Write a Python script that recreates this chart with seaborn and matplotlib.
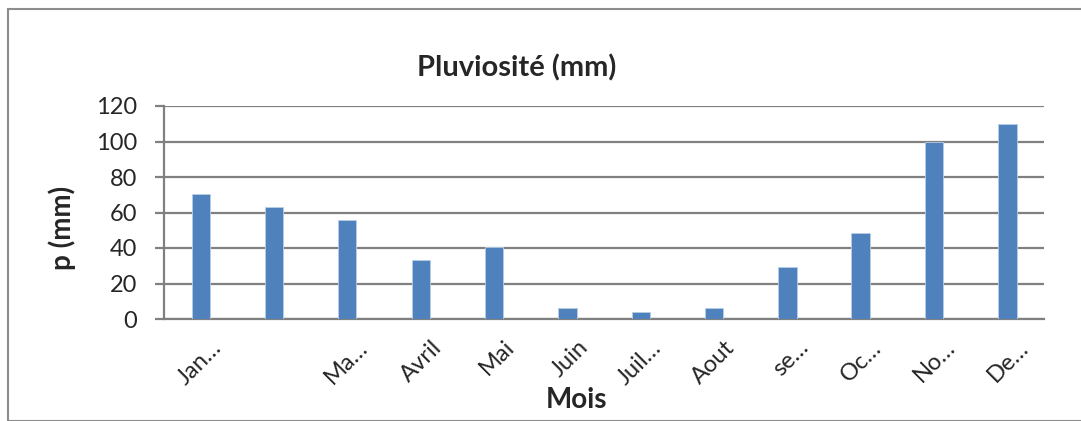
import seaborn as sns
import matplotlib.pyplot as plt
from matplotlib.patches import Rectangle
from matplotlib.transforms import ScaledTranslation
import pandas as pd

months = ["Janvier", "Février", "Mars", "Avril", "Mai", "Juin",
          "Juillet", "Aout", "septembre", "Octobre", "Novembre", "Décembre"]
tick_labels = ["Jan…", "", "Ma…", "Avril", "Mai", "Juin",
               "Juil…", "Aout", "se…", "Oc…", "No…", "De…"]
rain = [70.5, 63, 56, 33.5, 40.5, 6, 4, 6, 29.5, 48.5, 100, 110]

df = pd.DataFrame({"mois": months, "p": rain})

sns.set_style("white")
plt.rcParams["font.family"] = ["Lato", "DejaVu Sans"]

W, H = 1081, 421
fig = plt.figure(figsize=(W / 100, H / 100), dpi=100)
ax = fig.add_axes([164 / W, 1 - 319 / H, 880 / W, 213 / H])

grey = "#808080"
sns.barplot(data=df, x="mois", y="p", ax=ax, color="#4F81BD", width=0.25,
            saturation=1, edgecolor="#B9CDE5", linewidth=0.6, zorder=3)

ax.set_ylim(0, 120)
ax.set_xlim(-0.5, 11.5)
ax.set_yticks(range(0, 121, 20))
ax.yaxis.grid(True, color=grey, linewidth=1.6, zorder=0)
ax.set_axisbelow(True)
for side in ["top", "right"]:
    ax.spines[side].set_visible(False)
for side in ["left", "bottom"]:
    ax.spines[side].set_color(grey)
    ax.spines[side].set_linewidth(1.6)

ax.tick_params(axis="y", left=True, length=6.5, width=1.6, color=grey,
               pad=13, labelsize=17)
ax.tick_params(axis="x", bottom=False, labelsize=17)
ax.set_xticks(range(len(months)))
ax.set_xticklabels(tick_labels, rotation=45, ha="right", rotation_mode="anchor")
offset = ScaledTranslation(10 / 100, -8 / 100, fig.dpi_scale_trans)
for lab in ax.get_xticklabels():
    lab.set_transform(lab.get_transform() + offset)
ax.set_xlabel("")
ax.set_ylabel("")

fig.text(517 / W, 1 - 68 / H, "Pluviosité (mm)", ha="center", va="center",
         fontsize=21, fontweight="bold")
fig.text(62 / W, 1 - 228 / H, "p (mm)", ha="center", va="center",
         rotation=90, fontsize=20, fontweight="bold")
fig.text(577 / W, 1 - 400 / H, "Mois", ha="center", va="center",
         fontsize=20, fontweight="bold")

fig.patches.append(Rectangle((8 / W, 0.5 / H), 1.1, 1 - 9.5 / H,
                             transform=fig.transFigure, fill=False,
                             edgecolor="#8c8c8c", linewidth=1.5))

fig.savefig("out.png", dpi=100)
